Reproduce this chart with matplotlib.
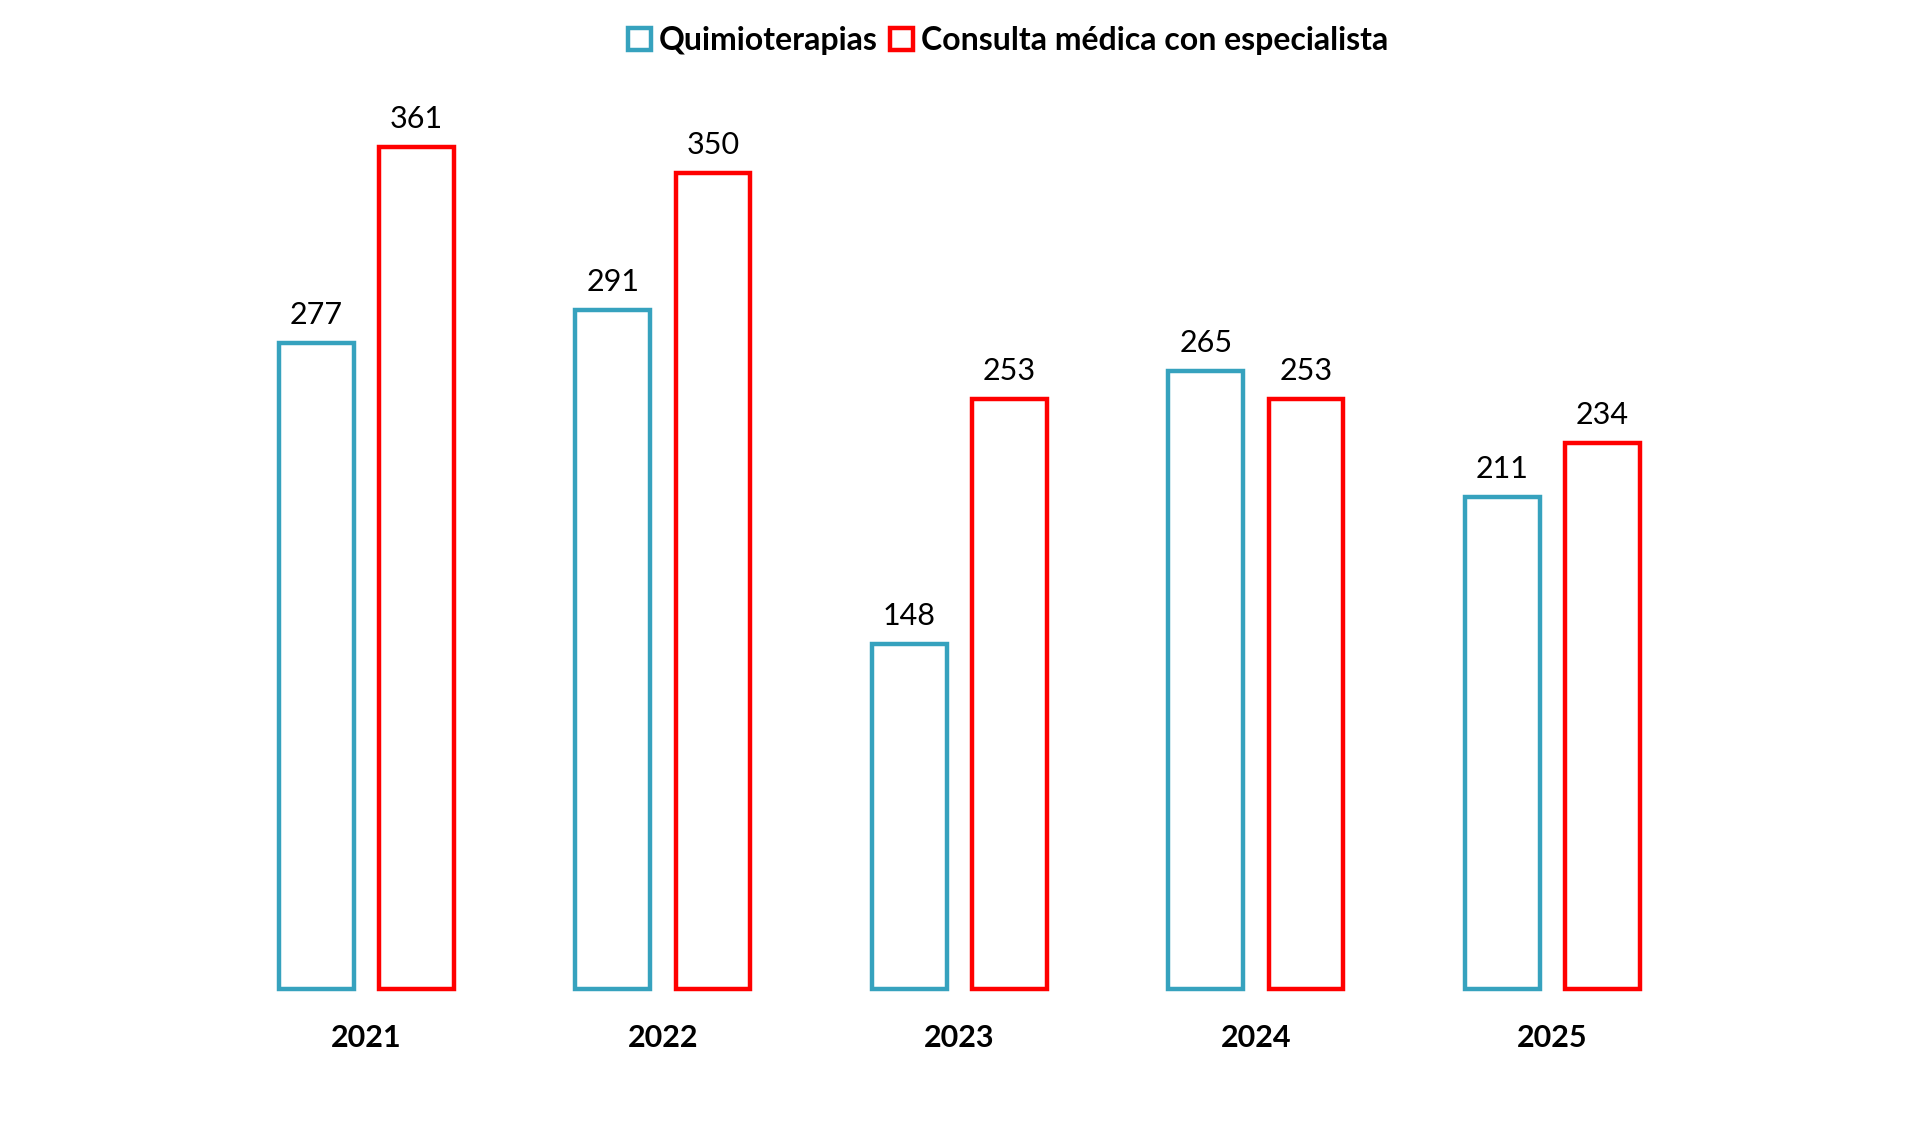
import matplotlib.pyplot as plt
import matplotlib.patches as mpatches
import numpy as np

years = ["2021", "2022", "2023", "2024", "2025"]
quimio = [277, 291, 148, 265, 211]
consulta = [361, 350, 253, 253, 234]

teal = "#36A2BE"
red = "#FF0000"

plt.rcParams['font.family'] = ['Lato', 'DejaVu Sans']

fig = plt.figure(figsize=(19.2, 11.35), dpi=100)
ax = fig.add_axes([0, 0, 1, 1])
ax.set_xlim(-1.236, 5.24)
ax.set_ylim(-62.5, 424)
ax.axis('off')

x = np.arange(len(years))
w = 0.252
off = 0.169
ax.bar(x - off, quimio, w, facecolor='white', edgecolor=teal, linewidth=3.2)
ax.bar(x + off, consulta, w, facecolor='white', edgecolor=red, linewidth=3.2)

for i in range(len(years)):
    ax.text(x[i] - off, quimio[i] + 6, str(quimio[i]), ha='center', va='bottom', fontsize=22)
    ax.text(x[i] + off, consulta[i] + 6, str(consulta[i]), ha='center', va='bottom', fontsize=22)
    ax.text(x[i], -21, years[i], ha='center', va='center', fontsize=22, fontweight='bold')

handles = [mpatches.Patch(facecolor='white', edgecolor=teal, linewidth=3.2, label='Quimioterapias'),
           mpatches.Patch(facecolor='white', edgecolor=red, linewidth=3.2, label='Consulta médica con especialista')]
fig.legend(handles=handles, loc='center', bbox_to_anchor=(0.525, 0.964), ncol=2, frameon=False,
           prop={'size': 23, 'weight': 'bold'}, handlelength=0.7, handleheight=0.7,
           handletextpad=0.25, columnspacing=0.4)

plt.savefig("out.png")
